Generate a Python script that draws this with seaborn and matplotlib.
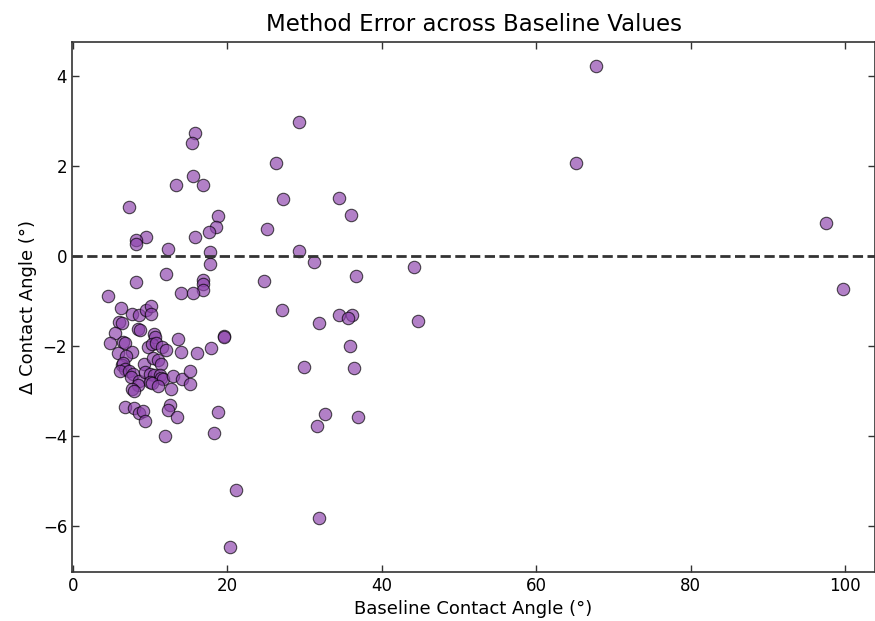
import matplotlib
matplotlib.use("Agg")
import matplotlib.pyplot as plt
import seaborn as sns
import pandas as pd

baseline = [
    67.7, 65.2, 97.5, 99.7, 44.2, 44.7,
    29.3, 26.3, 27.2, 34.5, 36.0, 25.1, 29.3, 31.2, 36.7, 24.7, 27.1, 31.9,
    34.5, 36.1, 35.6, 35.9, 29.9, 36.4, 32.6, 36.9, 31.6, 31.9, 21.1, 20.3,
    15.8, 15.4, 15.5, 13.4, 16.9, 7.3, 18.8, 18.5, 17.6, 15.8, 9.4, 8.1, 8.1,
    12.3, 17.7, 17.7, 12.0, 16.9, 16.9, 16.9, 8.2, 4.5, 14.0, 15.5,
    6.2, 7.6, 8.5, 9.4, 10.1, 10.1, 6.0, 6.4, 8.4, 8.7, 5.4, 10.5, 10.6,
    19.6, 19.5, 13.6, 4.8, 6.5, 6.7, 9.7, 10.2, 10.8, 11.5, 12.0, 14.0, 16.0,
    17.9, 5.8, 7.6, 6.9, 9.2, 10.3, 11.0, 11.4, 6.3, 6.5, 6.8, 6.1, 7.3, 7.8,
    7.5, 8.5, 8.4, 7.7, 7.9, 9.3, 10.0, 10.5, 10.0, 11.3, 11.4, 11.7, 10.2,
    11.0, 12.7, 12.9, 14.1, 15.2, 15.1, 6.8, 7.9, 8.5, 9.1, 9.3, 12.6, 12.3,
    13.5, 18.8, 18.3, 11.9,
]
delta = [
    4.22, 2.07, 0.73, -0.73, -0.24, -1.44,
    2.98, 2.07, 1.27, 1.29, 0.91, 0.60, 0.11, -0.13, -0.44, -0.56, -1.20, -1.49,
    -1.31, -1.31, -1.38, -2.00, -2.47, -2.49, -3.51, -3.58, -3.78, -5.82, -5.20, -6.47,
    2.73, 2.52, 1.78, 1.58, 1.59, 1.09, 0.90, 0.65, 0.53, 0.42, 0.42, 0.37, 0.27,
    0.16, 0.09, -0.18, -0.40, -0.52, -0.62, -0.76, -0.58, -0.89, -0.81, -0.81,
    -1.16, -1.29, -1.31, -1.20, -1.11, -1.29, -1.46, -1.48, -1.61, -1.64, -1.70, -1.72, -1.79,
    -1.78, -1.80, -1.84, -1.92, -1.90, -1.93, -2.01, -1.96, -1.94, -2.01, -2.09, -2.13, -2.16,
    -2.05, -2.15, -2.13, -2.22, -2.40, -2.27, -2.31, -2.40, -2.42, -2.38, -2.50, -2.56, -2.56, -2.62,
    -2.68, -2.78, -2.87, -2.96, -2.99, -2.57, -2.61, -2.64, -2.79, -2.64, -2.70, -2.72, -2.81,
    -2.89, -2.96, -2.67, -2.74, -2.56, -2.85, -3.35, -3.38, -3.48, -3.44, -3.67, -3.31, -3.42,
    -3.58, -3.47, -3.92, -3.99,
]

df = pd.DataFrame({"baseline": baseline, "delta": delta})

plt.rcParams['font.family'] = ['DejaVu Sans']

fig = plt.figure(figsize=(8.75, 6.21), dpi=100)
ax = fig.add_axes([72/875, 49/621, 803/875, 530/621])

sns.scatterplot(data=df, x="baseline", y="delta", ax=ax,
                color="#8e44ad", alpha=0.68, s=80, edgecolor="black", linewidth=0.8)
ax.axhline(0, color="#333333", linestyle="--", linewidth=2)

ax.set_xlim(-0.13, 103.9)
ax.set_ylim(-7.02, 4.76)
ax.set_xticks([0, 20, 40, 60, 80, 100])
ax.set_yticks([-6, -4, -2, 0, 2, 4])
ax.tick_params(direction="in", top=True, right=True, bottom=True, left=True,
               labelsize=12, length=5, width=1, colors="#333333", labelcolor="black")
ax.set_xlabel("Baseline Contact Angle (°)", fontsize=13, color="black")
ax.set_ylabel("Δ Contact Angle (°)", fontsize=13, color="black")
ax.set_title("Method Error across Baseline Values", fontsize=16.5, color="black", pad=8)
for sp in ax.spines.values():
    sp.set_color("#333333")
    sp.set_linewidth(1.2)

fig.savefig("out.png", dpi=100)
